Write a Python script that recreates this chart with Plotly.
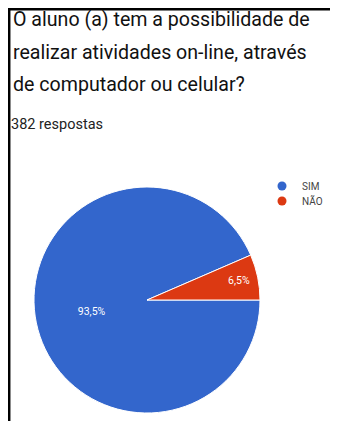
import plotly.graph_objects as go

title_lines = ["O aluno (a) tem a possibilidade de",
               "realizar atividades on-line, através",
               "de computador ou celular?"]
subtitle = "382 respostas"
categories = ["SIM", "NÃO"]
percent_values = [93.5, 6.5]
percent_labels = ["93,5%", "6,5%"]
colors = ["#3366CC", "#DC3912"]

# page body has an 8px default margin: figure is sized/offset to compensate
OFF = 8
W, H = 338 - OFF, 421 - OFF


def px(x):
    return (x - OFF) / W


def py(y):
    return 1 - (y - OFF) / H


CX, CY, R = 147, 300, 113

fig = go.Figure()
fig.add_trace(go.Pie(
    labels=categories, values=percent_values, text=percent_labels,
    textinfo="text", sort=False, direction="clockwise", rotation=90,
    marker=dict(colors=colors, line=dict(color="white", width=1)),
    textfont=dict(color="white", size=10.5, family="Roboto"),
    insidetextorientation="horizontal", textposition="inside",
    showlegend=False, hoverinfo="label+percent",
    domain=dict(x=[px(CX - R), px(CX + R)], y=[py(CY + R), py(CY - R)]),
))
for i, (c, col) in enumerate(zip(categories, colors)):
    fig.add_trace(go.Scatter(x=[None], y=[None], mode="markers", name=c,
                             marker=dict(color=col, size=9, symbol="circle"),
                             legend="legend" if i == 0 else "legend2"))

annotations = []
for i, line in enumerate(title_lines):
    annotations.append(dict(text=line, x=px(11), y=py(19 + 33 * i), xref="paper", yref="paper",
                            xanchor="left", yanchor="middle", showarrow=False,
                            font=dict(family="Roboto", size=19.6, color="#111111")))
annotations.append(dict(text=subtitle, x=px(9), y=py(124), xref="paper", yref="paper",
                        xanchor="left", yanchor="middle", showarrow=False,
                        font=dict(family="Roboto", size=14.5, color="#222222")))

legend_common = dict(xanchor="left", yanchor="middle", bgcolor="rgba(0,0,0,0)",
                     font=dict(family="Roboto", size=10, color="#444444"),
                     itemwidth=30, borderwidth=0)

fig.update_layout(
    width=W, height=H, margin=dict(l=0, r=0, t=0, b=0, autoexpand=False),
    paper_bgcolor="white", plot_bgcolor="white",
    xaxis=dict(visible=False), yaxis=dict(visible=False),
    annotations=annotations,
    legend=dict(x=px(262), y=py(186), **legend_common),
    legend2=dict(x=px(262), y=py(201), **legend_common),
    shapes=[
        dict(type="line", xref="paper", yref="paper", x0=px(8), x1=1, y0=py(9.2), y1=py(9.2),
             line=dict(color="black", width=2.5)),
        dict(type="line", xref="paper", yref="paper", x0=px(9.2), x1=px(9.2), y0=py(8), y1=0,
             line=dict(color="black", width=2.5)),
    ],
)

fig.write_html("out.html")
